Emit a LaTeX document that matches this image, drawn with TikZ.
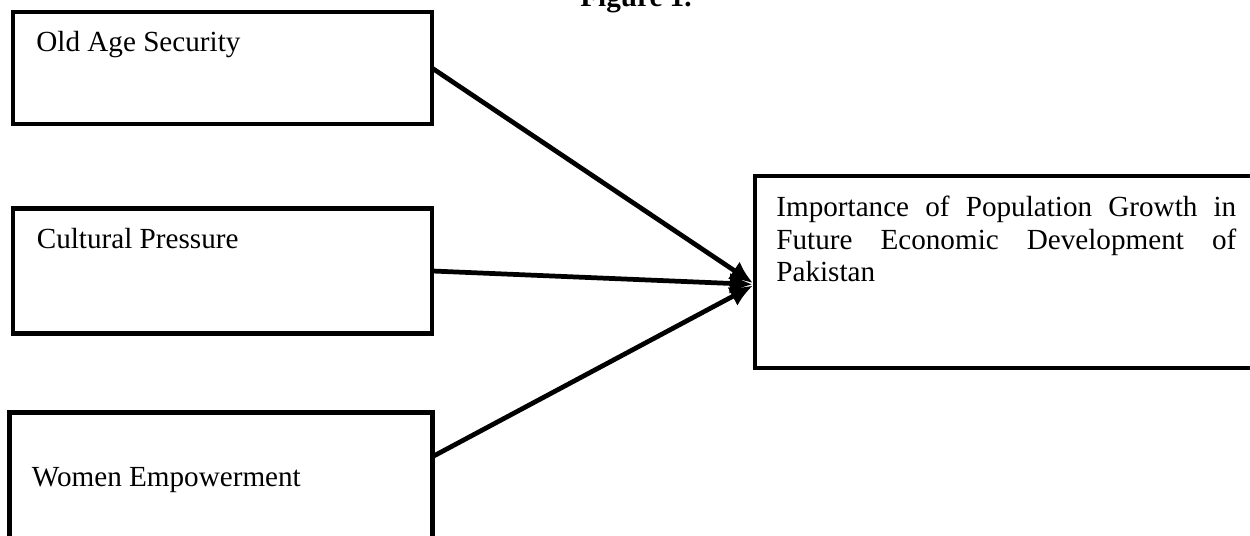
\documentclass[tikz,border=0pt]{standalone}
\usepackage{fontspec}
\setmainfont{Liberation Serif}
\usetikzlibrary{arrows.meta, positioning, calc}
\hyphenpenalty=10000
\exhyphenpenalty=10000

\begin{document}
\begin{tikzpicture}[
        x=0.02cm, y=-0.02cm,
        box/.style={rectangle, draw=black, line width=2.7pt, anchor=north west,
                    inner sep=0pt, outer sep=0pt, minimum width=8.38cm},
        txt/.style={anchor=base west, inner sep=0pt, font=\fontsize{16.6}{18.5}\selectfont},
        arr/.style={-{Latex[length=13pt, width=12pt]}, line width=2.7pt, black, shorten >=1.4pt}
    ]
        \useasboundingbox (0,0) rectangle (1250,536);

        % Title (cut by the page edge)
        \node[anchor=base, inner sep=0pt, font=\fontsize{16.6}{18.5}\selectfont\bfseries] (title) at (636,6.5) {Figure 1.};

        % Factors
        \node[box, minimum height=2.24cm] (age) at (13,12) {};
        \node[box, minimum height=2.5cm] (culture) at (13,208.5) {};
        \node[box, minimum width=8.46cm, minimum height=3cm] (women) at (9.5,412.7) {};
        \node[txt] (agetxt) at ($(age.north west)+(23,40)$) {Old Age Security};
        \node[txt] (culturetxt) at ($(culture.north west)+(23.5,40)$) {Cultural Pressure};
        \node[txt] (womentxt) at ($(women.north west)+(22,74)$) {Women Empowerment};

        % Outcome
        \node[box, minimum width=10.5cm, minimum height=3.84cm] (impact) at (755,176) {};
        \node[txt, anchor=north west, text width=9.2cm, align=justify] (impacttxt) at (776,196)
            {Importance of Population Growth in Future Economic Development of Pakistan};

        % Links
        \coordinate (hub) at ($(impact.north west)!0.565!(impact.south west)$);
        \draw[arr] (age.east) -- (hub);
        \draw[arr] (culture.east) -- (hub);
        \draw[arr] ($(women.north east)+(0,44)$) -- (hub);
    \end{tikzpicture}
\end{document}
